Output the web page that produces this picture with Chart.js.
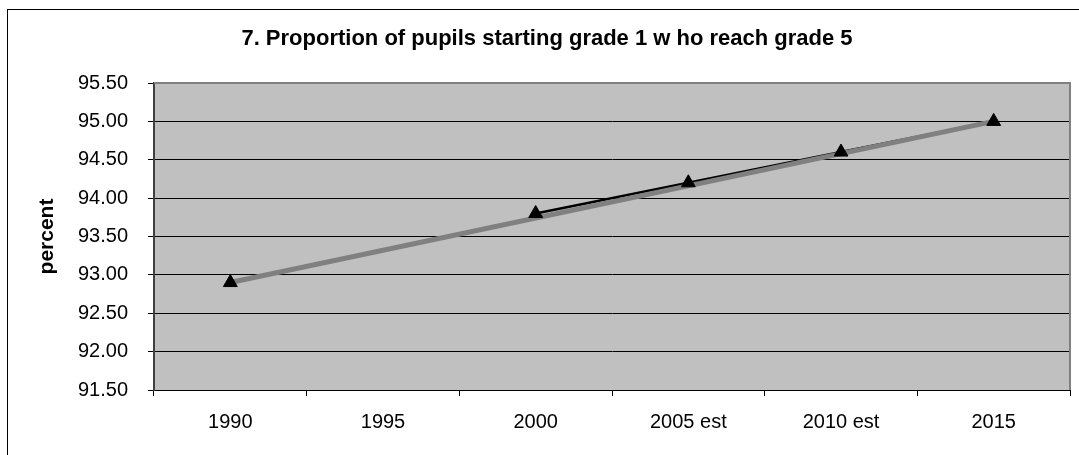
<!DOCTYPE html>
<html>
<head>
<meta charset="utf-8">
<script src="https://cdn.jsdelivr.net/npm/chart.js@4"></script>
<style>
  html, body { margin: 0; padding: 0; background: #fff; }
  #wrap { width: 1079px; height: 455px; }
</style>
</head>
<body>
<div id="wrap"><canvas id="grafico" width="1079" height="455"></canvas></div>
<script>
// datos
var years = ['1990', '1995', '2000', '2005 est', '2010 est', '2015'];
var proportion = [92.9, null, 93.8, 94.2, 94.6, 95.0];
var trendLine = [92.9, null, null, null, null, 95.0];
var yMin = 91.5;
var yMax = 95.5;
var yStep = 0.5;

var fondo = {
  id: 'fondo',
  beforeDraw: function(chart){
    var ctx = chart.ctx;
    var a = chart.chartArea;
    ctx.save();
    ctx.fillStyle = '#ffffff';
    ctx.fillRect(0, 0, chart.width, chart.height);
    ctx.strokeStyle = '#000000';
    ctx.lineWidth = 1;
    ctx.strokeRect(7.5, 9.5, chart.width + 20, chart.height + 20);
    ctx.fillStyle = '#c0c0c0';
    ctx.fillRect(a.left, a.top, a.right - a.left, a.bottom - a.top);
    ctx.restore();
  },
  beforeDatasetsDraw: function(chart){
    var ctx = chart.ctx;
    var a = chart.chartArea;
    ctx.save();
    ctx.strokeStyle = '#808080';
    ctx.lineWidth = 2;
    ctx.beginPath();
    ctx.moveTo(a.left, a.top);
    ctx.lineTo(a.right, a.top);
    ctx.lineTo(a.right, a.bottom);
    ctx.stroke();
    ctx.restore();
  }
};

var contexto = document.getElementById('grafico').getContext('2d');
var myChart = new Chart(contexto, {
  type: 'line',
  data: {
    labels: years,
    datasets: [{
      label: 'markers',
      data: proportion,
      showLine: false,
      pointStyle: 'triangle',
      pointRadius: 8,
      pointBackgroundColor: '#000000',
      pointBorderColor: '#000000',
      pointBorderWidth: 1
    }, {
      label: 'trend',
      data: trendLine,
      spanGaps: true,
      borderColor: '#808080',
      borderWidth: 5,
      pointRadius: 0
    }, {
      label: 'proportion',
      data: proportion,
      spanGaps: false,
      borderColor: '#000000',
      borderWidth: 2.5,
      pointRadius: 0
    }]
  },
  options: {
    responsive: false,
    animation: false,
    layout: {
      padding: { left: 24, right: 9, top: 9, bottom: 0 }
    },
    plugins: {
      legend: { display: false },
      tooltip: { enabled: false },
      title: {
        display: true,
        text: '7. Proportion of pupils starting grade 1 w ho reach grade 5',
        color: '#000000',
        font: { family: 'Liberation Sans, Arial, sans-serif', size: 22, weight: 'bold' },
        padding: { top: 17, bottom: 30.6 }
      }
    },
    scales: {
      x: {
        offset: true,
        grid: {
          offset: true,
          drawOnChartArea: false,
          drawTicks: true,
          tickLength: 6,
          color: '#000000'
        },
        border: { color: '#000000', width: 1 },
        ticks: {
          color: '#000000',
          padding: 14,
          maxRotation: 0,
          font: { family: 'Liberation Sans, Arial, sans-serif', size: 20 }
        },
        afterFit: function(scale){ scale.height = 65; }
      },
      y: {
        min: yMin,
        max: yMax,
        grid: {
          color: function(c){ return c.tick && c.tick.value === yMax ? '#808080' : '#000000'; },
          tickColor: '#000000',
          tickLength: 6,
          lineWidth: 1
        },
        border: { color: '#404040', width: 2 },
        ticks: {
          stepSize: yStep,
          color: '#000000',
          padding: 20,
          font: { family: 'Liberation Sans, Arial, sans-serif', size: 20 },
          callback: function(v){ return Number(v).toFixed(2); }
        },
        title: {
          display: true,
          text: 'percent',
          color: '#000000',
          font: { family: 'Liberation Sans, Arial, sans-serif', size: 21, weight: 'bold' },
          padding: { top: 11, bottom: 0 }
        },
        afterFit: function(scale){ scale.width = 130; }
      }
    }
  },
  plugins: [fondo]
});
</script>
</body>
</html>
